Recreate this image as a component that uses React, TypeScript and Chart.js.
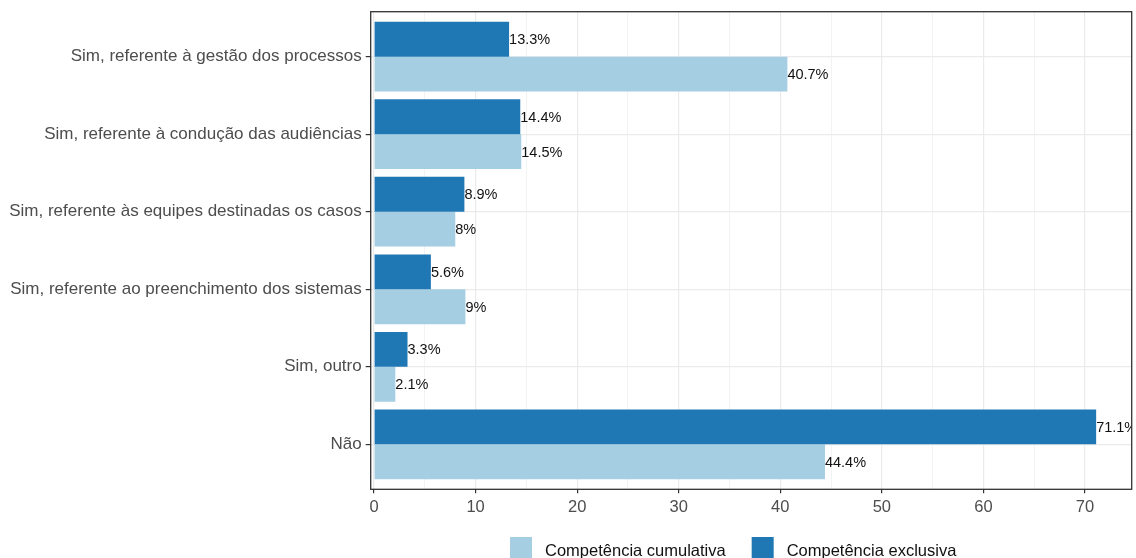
import React, { useEffect, useRef } from "react";
import { Chart, registerables } from "chart.js";

Chart.register(...registerables);

const categories = [
  "Sim, referente à gestão dos processos",
  "Sim, referente à condução das audiências",
  "Sim, referente às equipes destinadas os casos",
  "Sim, referente ao preenchimento dos sistemas",
  "Sim, outro",
  "Não",
];
const exclusiva = [13.3, 14.4, 8.9, 5.6, 3.3, 71.1];
const cumulativa = [40.7, 14.5, 8, 9, 2.1, 44.4];
const seriesNames = ["Competência exclusiva", "Competência cumulativa"];
const xTicks = [0, 5, 10, 15, 20, 25, 30, 35, 40, 45, 50, 55, 60, 65, 70];

const FONT = "'Liberation Sans', Arial, sans-serif";
const DARK = "#1F78B4";
const LIGHT = "#A6CEE3";

const barLabels = {
  id: "barLabels",
  afterDatasetsDraw(chart: any) {
    const ctx = chart.ctx;
    const a = chart.chartArea;
    ctx.save();
    ctx.beginPath();
    ctx.rect(a.left, a.top, a.right - a.left, a.bottom - a.top);
    ctx.clip();
    ctx.font = `14.5px ${FONT}`;
    ctx.fillStyle = "#111";
    ctx.textAlign = "left";
    ctx.textBaseline = "middle";
    chart.data.datasets.forEach((ds: any, di: number) => {
      const meta = chart.getDatasetMeta(di);
      meta.data.forEach((bar: any, i: number) => {
        ctx.fillText(String(ds.data[i].x) + "%", bar.x, bar.y + 1);
      });
    });
    ctx.restore();
  },
};

const panelAndLegend = {
  id: "panelAndLegend",
  afterDraw(chart: any) {
    const ctx = chart.ctx;
    const a = chart.chartArea;
    ctx.save();
    ctx.strokeStyle = "#333333";
    ctx.lineWidth = 1.3;
    ctx.strokeRect(a.left, a.top, a.right - a.left, a.bottom - a.top);
    // legend (reverse dataset order)
    ctx.font = `16.5px ${FONT}`;
    ctx.textBaseline = "alphabetic";
    ctx.textAlign = "left";
    let x = 510;
    const order = [1, 0];
    order.forEach((di) => {
      const ds = chart.data.datasets[di];
      ctx.fillStyle = ds.backgroundColor;
      ctx.fillRect(x, 537, 22, 22);
      ctx.fillStyle = "#111";
      ctx.fillText(ds.label, x + 35, 556);
      x += 35 + ctx.measureText(ds.label).width + 26;
    });
    ctx.restore();
  },
};

export default function App() {
  const ref = useRef<HTMLCanvasElement>(null);
  useEffect(() => {
    if (!ref.current) return;
    const chart = new Chart(ref.current, {
      type: "bar",
      data: {
        datasets: [
          {
            label: seriesNames[0],
            data: exclusiva.map((v, i) => ({ x: v, y: i })) as any,
            backgroundColor: DARK,
          },
          {
            label: seriesNames[1],
            data: cumulativa.map((v, i) => ({ x: v, y: i })) as any,
            backgroundColor: LIGHT,
          },
        ],
      },
      options: {
        indexAxis: "y",
        responsive: false,
        animation: false,
        events: [],
        datasets: { bar: { categoryPercentage: 0.9, barPercentage: 1.0 } },
        layout: { padding: { top: 11.7, right: 4.3, left: 0, bottom: 0 } },
        plugins: { legend: { display: false }, tooltip: { enabled: false } },
        scales: {
          x: {
            type: "linear",
            position: "bottom",
            min: -0.325,
            max: 74.6,
            offset: false,
            afterBuildTicks: (s: any) => {
              s.ticks = xTicks.map((v) => ({ value: v }));
            },
            afterFit: (s: any) => {
              s.height = 68.7;
              s.paddingLeft = 0;
              s.paddingRight = 0;
            },
            border: { display: false },
            grid: {
              offset: false,
              color: "#EBEBEB",
              lineWidth: (c: any) => (c.tick && c.tick.value % 10 === 0 ? 1.2 : 0.6),
              tickColor: (c: any) => (c.tick && c.tick.value % 10 === 0 ? "#333333" : "rgba(0,0,0,0)"),
              tickLength: 4,
              tickWidth: 1.2,
            },
            ticks: {
              autoSkip: false,
              maxRotation: 0,
              color: "#4D4D4D",
              font: { family: FONT, size: 16.5 },
              padding: 4,
              callback: (v: any) => (Number(v) % 10 === 0 ? String(v) : ""),
            },
          },
          y: {
            type: "linear",
            reverse: true,
            min: -0.58,
            max: 5.58,
            offset: false,
            afterBuildTicks: (s: any) => {
              s.ticks = categories.map((_, i) => ({ value: i }));
            },
            afterFit: (s: any) => {
              s.width = 370.7;
              s.paddingTop = 0;
              s.paddingBottom = 0;
            },
            border: { display: false },
            grid: {
              offset: false,
              color: "#EBEBEB",
              lineWidth: 1.2,
              tickColor: "#333333",
              tickLength: 5,
              tickWidth: 1.2,
            },
            ticks: {
              autoSkip: false,
              color: "#4D4D4D",
              font: { family: FONT, size: 17 },
              padding: 4,
              callback: (v: any) => categories[Number(v)] ?? "",
            },
          },
        },
      },
      plugins: [barLabels, panelAndLegend],
    });
    return () => chart.destroy();
  }, []);
  return (
    <div style={{ position: "fixed", left: 0, top: 0, width: 1136, height: 558, background: "#fff" }}>
      <canvas ref={ref} width={1136} height={558} />
    </div>
  );
}
